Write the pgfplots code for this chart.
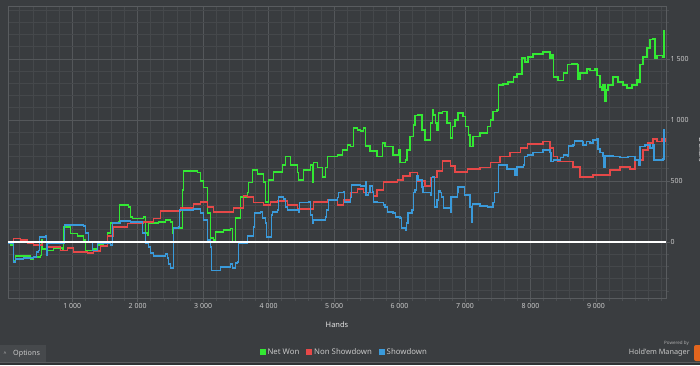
\documentclass[border=0pt]{standalone}
\usepackage{fontspec}
\setmainfont{Noto Sans}
\usepackage{pgfplots}
\pgfplotsset{compat=1.18}
\definecolor{bgcol}{HTML}{3A3D40}
\definecolor{plotbg}{HTML}{393C3F}
\definecolor{mingrid}{HTML}{45484B}
\definecolor{majgrid}{HTML}{54575A}
\definecolor{bordercol}{HTML}{595C5F}
\definecolor{ticktext}{HTML}{C8C8C8}
\definecolor{netwon}{HTML}{33E833}
\definecolor{nonsd}{HTML}{E64848}
\definecolor{sd}{HTML}{3A9ADA}
\definecolor{tabcol}{HTML}{46494C}
\definecolor{darkstrip}{HTML}{2F3234}
\definecolor{hmorange}{HTML}{E2651E}
\begin{document}
\begin{tikzpicture}[x=1pt,y=1pt]
\useasboundingbox (0,0) rectangle (700,365);
\fill[bgcol] (0,0) rectangle (700,365);
% bottom bar
\fill[darkstrip] (0,0) rectangle (700,2);
\draw[draw=bordercol, line width=1.2pt] (0,2.6) -- (700,2.6);
\fill[tabcol] (0,3.2) rectangle (46,20);
\node[font=\fontsize{5}{6}\selectfont, text=ticktext] at (5,11) {\^{}};
\node[font=\fontsize{7.2}{8}\selectfont, text=ticktext, anchor=west, inner sep=0] at (13,11) {Options};
\node[font=\fontsize{4.5}{5}\selectfont, text=ticktext!80!bgcol, anchor=east, inner sep=0] at (689,22) {Powered by};
\node[font=\fontsize{7.3}{8}\selectfont, text=ticktext, anchor=east, inner sep=0] at (690,12) {Hold'em Manager};
\fill[hmorange, rounded corners=2pt] (694,4) rectangle (706,20);
\begin{axis}[
  at={(8pt,67pt)}, anchor=south west,
  width=658pt, height=292pt, scale only axis,
  xmin=20, xmax=10069, ymin=-459, ymax=1934,
  scaled x ticks=false, scaled y ticks=false,
  axis background/.style={fill=plotbg},
  axis line style={draw=bordercol, line width=0.8pt},
  xtick={1000,2000,...,9000},
  xticklabels={1 000,2 000,3 000,4 000,5 000,6 000,7 000,8 000,9 000},
  ytick={0,500,1000,1500},
  yticklabels={0,500,1 000,1 500},
  minor xtick={200,400,600,800,1200,1400,1600,1800,2200,2400,2600,2800,3200,3400,3600,3800,4200,4400,4600,4800,5200,5400,5600,5800,6200,6400,6600,6800,7200,7400,7600,7800,8200,8400,8600,8800,9200,9400,9600,9800,10000},
  minor ytick={-400,-300,-200,-100,100,200,300,400,600,700,800,900,1100,1200,1300,1400,1600,1700,1800,1900},
  grid=both,
  major grid style={draw=majgrid, line width=0.7pt},
  minor grid style={draw=mingrid, line width=0.7pt},
  xtick pos=bottom, ytick pos=right,
  tick align=outside,
  major tick length=3.5pt, minor tick length=3pt,
  every tick/.style={draw=bordercol, line width=0.7pt},
  every minor tick/.style={draw=mingrid!70!bordercol, line width=0.6pt},
  ticklabel style={font=\fontsize{7}{8}\selectfont, text=ticktext},
  yticklabel style={anchor=west, inner sep=1pt},
  xticklabel style={inner sep=1.5pt},
  xlabel={\textbf{Hands}},
  xlabel style={at={(axis description cs:0.5,-0.0925)}, anchor=center, font=\fontsize{7.5}{9}\selectfont, text=white!90!black},
  ylabel={Dollars},
  ylabel style={at={(axis description cs:1.0547,0.507)}, anchor=center, rotate=180, font=\fontsize{7.5}{9}\selectfont\bfseries, text=white!90!black},
  legend image code/.code={\fill[#1] (0pt,-2.4pt) rectangle (4.8pt,2.4pt);},
  legend style={at={(axis description cs:0.511,-0.185)}, anchor=center, draw=none, fill=none,
    font=\fontsize{7.8}{9}\selectfont, text=ticktext, legend columns=3,
    /tikz/every even column/.append style={column sep=5pt}},
  legend cell align=left,
]
\addplot[netwon, line width=1.1pt, const plot] coordinates {
(20,0)(53,-25)(99,-156)(130,-115)(252,-115)(359,-139)(405,-123)(511,-107)(527,16)(542,-57)(618,-66)(710,-49)(847,-57)(863,123)(969,66)(1076,49)(1168,16)(1198,-66)(1321,-57)(1382,-25)(1473,0)(1534,74)(1580,156)(1702,164)(1718,303)(1855,287)(1885,205)(1916,189)(2084,205)(2114,74)(2145,57)(2160,156)(2313,164)(2420,180)(2496,164)(2527,74)(2542,115)(2664,115)(2679,426)(2695,582)(2847,582)(2908,566)(2954,500)(3000,443)(3061,238)(3107,33)(3153,16)(3183,82)(3305,98)(3412,107)(3443,0)(3488,197)(3565,369)(3672,402)(3687,484)(3748,590)(3824,557)(3916,492)(3947,328)(3992,508)(4069,574)(4206,631)(4252,697)(4328,631)(4435,566)(4450,508)(4527,590)(4634,631)(4664,484)(4679,648)(4740,607)(4817,533)(4863,607)(4893,697)(5046,713)(5122,754)(5198,795)(5244,779)(5290,934)(5351,918)(5397,910)(5443,934)(5473,787)(5549,746)(5656,697)(5733,811)(5778,779)(5900,713)(5977,754)(6007,648)(6084,672)(6114,754)(6160,861)(6206,959)(6236,1033)(6282,1041)(6343,918)(6389,836)(6466,975)(6496,1082)(6511,1041)(6542,975)(6572,918)(6588,1057)(6649,1066)(6725,975)(6771,852)(6802,943)(6847,1000)(6893,1057)(6969,1025)(7000,943)(7046,877)(7076,779)(7122,861)(7229,893)(7336,943)(7382,1000)(7427,1066)(7488,1082)(7504,1287)(7580,1295)(7656,1311)(7733,1352)(7794,1377)(7840,1369)(7870,1508)(7916,1475)(7962,1516)(8038,1541)(8115,1541)(8191,1557)(8252,1557)(8298,1508)(8328,1533)(8344,1352)(8420,1320)(8497,1385)(8558,1451)(8634,1459)(8710,1451)(8725,1336)(8756,1385)(8863,1418)(8908,1402)(8985,1418)(9015,1361)(9061,1270)(9092,1246)(9107,1287)(9137,1148)(9153,1246)(9183,1287)(9260,1352)(9336,1311)(9412,1287)(9473,1262)(9550,1287)(9626,1328)(9641,1311)(9672,1451)(9718,1516)(9779,1590)(9824,1656)(9870,1664)(9901,1508)(9931,1525)(10023,1516)(10038,1730)(10050,1730)
};
\addlegendentry{Net Won}
\addplot[nonsd, line width=1.1pt, const plot] coordinates {
(20,0)(99,25)(206,16)(313,-8)(405,-25)(542,0)(618,-41)(817,-66)(924,-49)(1015,-82)(1229,-90)(1321,-74)(1427,-33)(1534,49)(1626,123)(1840,148)(2084,164)(2237,189)(2343,254)(2649,279)(2847,311)(2954,328)(3061,287)(3153,246)(3458,279)(3611,377)(3672,369)(3763,320)(3916,303)(4023,328)(4130,336)(4282,303)(4435,270)(4527,270)(4679,328)(4893,344)(5046,303)(5137,344)(5244,402)(5351,434)(5443,402)(5595,377)(5656,426)(5748,492)(5962,508)(6053,541)(6160,566)(6267,500)(6389,459)(6466,525)(6572,582)(6649,664)(6771,623)(6847,574)(7031,598)(7229,607)(7382,648)(7534,697)(7687,730)(7840,770)(7947,803)(8191,820)(8298,770)(8344,697)(8405,656)(8649,615)(8756,533)(8954,549)(9168,549)(9214,590)(9366,615)(9519,598)(9595,672)(9718,754)(9794,811)(9870,844)(9931,820)(10008,844)(10053,820)
};
\addlegendentry{Non Showdown}
\addplot[sd, line width=1.1pt, const plot] coordinates {
(20,-8)(84,-8)(99,-164)(130,-139)(252,-131)(405,-123)(450,-82)(481,-66)(496,41)(588,49)(603,-107)(618,-8)(863,-8)(878,139)(1168,131)(1198,74)(1244,0)(1305,-66)(1382,-16)(1580,-25)(1611,156)(1733,172)(1885,164)(2038,164)(2069,74)(2114,-8)(2160,-41)(2191,-90)(2237,-115)(2420,-98)(2450,-131)(2466,-180)(2496,-213)(2527,-213)(2542,115)(2618,123)(2634,262)(2847,270)(2954,238)(3000,180)(3061,16)(3107,-41)(3122,-230)(3259,-205)(3412,-180)(3443,-213)(3488,-172)(3519,-164)(3534,-8)(3672,49)(3763,123)(3779,238)(3870,246)(3901,197)(3947,156)(3962,41)(4023,41)(4038,221)(4053,246)(4130,262)(4145,369)(4221,352)(4252,287)(4282,262)(4450,246)(4466,320)(4603,328)(4634,221)(4664,156)(4679,180)(4863,205)(4878,262)(4908,344)(5046,361)(5061,402)(5137,410)(5153,328)(5244,361)(5259,467)(5397,459)(5473,492)(5488,385)(5519,402)(5549,459)(5580,410)(5595,328)(5656,320)(5748,303)(5778,287)(5809,246)(5900,238)(5931,205)(6007,197)(6023,115)(6084,98)(6099,156)(6129,238)(6190,262)(6206,402)(6236,426)(6252,541)(6282,508)(6343,451)(6358,402)(6466,385)(6481,525)(6511,533)(6527,287)(6572,344)(6588,418)(6618,402)(6634,369)(6664,279)(6771,246)(6786,369)(6878,402)(6893,451)(6969,451)(6985,385)(7076,287)(7092,164)(7107,311)(7229,295)(7336,287)(7427,320)(7443,402)(7488,402)(7504,631)(7641,598)(7733,598)(7763,549)(7794,615)(7886,631)(7901,697)(7947,713)(8038,730)(8191,754)(8298,730)(8313,656)(8344,672)(8451,689)(8497,713)(8558,697)(8573,787)(8649,795)(8665,828)(8787,820)(8802,795)(8832,795)(8848,820)(8908,811)(8954,836)(9015,844)(9030,762)(9061,730)(9107,697)(9122,607)(9137,705)(9260,697)(9366,689)(9489,697)(9595,672)(9641,672)(9657,631)(9672,779)(9748,795)(9824,770)(9870,795)(9886,672)(10023,680)(10038,918)(10050,918)
};
\addlegendentry{Showdown}
\addplot[white, line width=1.6pt, forget plot] coordinates {(20,0) (10069,0)};
\end{axis}
\end{tikzpicture}
\end{document}
